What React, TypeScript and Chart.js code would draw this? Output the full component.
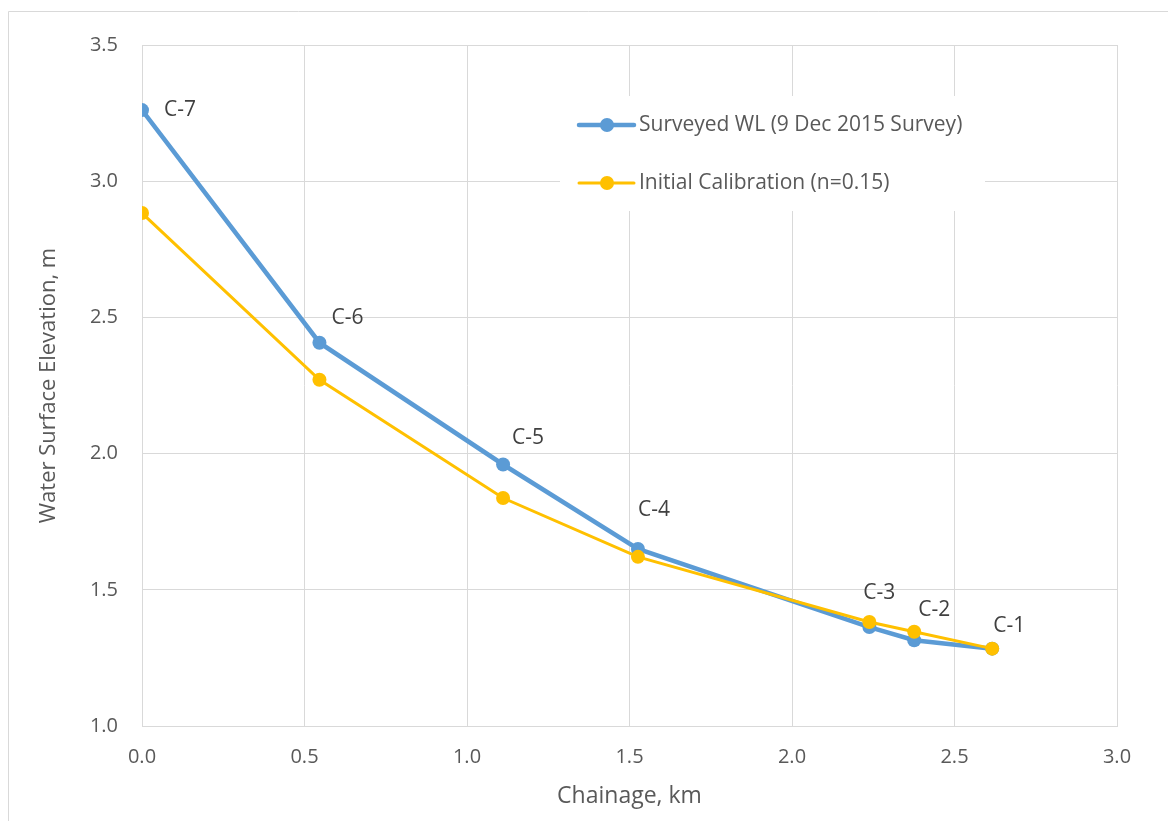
import React, { useEffect, useRef } from "react";
import { Chart, registerables } from "chart.js";

Chart.register(...registerables);

// ---- data ----
const chainageKm = [0, 0.546, 1.111, 1.526, 2.238, 2.376, 2.616];
const surveyedWL = [3.261, 2.407, 1.96, 1.65, 1.363, 1.315, 1.284];
const initialCalibration = [2.883, 2.271, 1.837, 1.621, 1.382, 1.346, 1.284];
const pointLabels = ["C-7", "C-6", "C-5", "C-4", "C-3", "C-2", "C-1"];
const seriesNames = ["Surveyed WL (9 Dec 2015 Survey)", "Initial Calibration (n=0.15)"];
const xTitle = "Chainage, km";
const yTitle = "Water Surface Elevation, m";

const BLUE = "#5B9BD5";
const GOLD = "#FFC000";
const GRID = "#D9D9D9";
const TEXT = "#595959";
const FONT = "'Open Sans', 'Liberation Sans', sans-serif";

// label placement (pixel offsets from the surveyed point)
const labelOffsets: [number, number][] = [
  [38, 0],
  [28, -25],
  [25, -26],
  [16, -39],
  [10, -34],
  [20, -30],
  [17, -23],
];

const framePlugin = {
  id: "frame",
  beforeDraw(chart: any) {
    const { ctx, width, height } = chart;
    ctx.save();
    ctx.fillStyle = "#ffffff";
    ctx.fillRect(0, 0, width, height);
    ctx.strokeStyle = GRID;
    ctx.lineWidth = 1;
    ctx.beginPath();
    ctx.moveTo(0.5, height);
    ctx.lineTo(0.5, 3.5);
    ctx.lineTo(width, 3.5);
    ctx.stroke();
    ctx.restore();
  },
};

const labelsPlugin = {
  id: "pointLabels",
  afterDatasetsDraw(chart: any) {
    const { ctx } = chart;
    const meta = chart.getDatasetMeta(0);
    ctx.save();
    ctx.font = `21px ${FONT}`;
    ctx.fillStyle = "#404040";
    ctx.textAlign = "center";
    ctx.textBaseline = "middle";
    meta.data.forEach((pt: any, i: number) => {
      const [dx, dy] = labelOffsets[i] || [0, 0];
      ctx.fillText(pointLabels[i], pt.x + dx, pt.y + dy);
    });
    ctx.restore();
  },
};

const legendPlugin = {
  id: "customLegend",
  afterDraw(chart: any) {
    const { ctx, chartArea } = chart;
    const bx = chartArea.left + 418;
    const by = chartArea.top + 51;
    ctx.save();
    ctx.fillStyle = "#ffffff";
    ctx.fillRect(bx, by, 425, 115);
    const rows = [
      { y: chartArea.top + 80, color: BLUE, lw: 4.5 },
      { y: chartArea.top + 138, color: GOLD, lw: 3 },
    ];
    rows.forEach((r, i) => {
      const lx = chartArea.left + 437;
      ctx.strokeStyle = r.color;
      ctx.lineWidth = r.lw;
      ctx.lineCap = "round";
      ctx.beginPath();
      ctx.moveTo(lx, r.y);
      ctx.lineTo(lx + 55, r.y);
      ctx.stroke();
      ctx.fillStyle = r.color;
      ctx.beginPath();
      ctx.arc(lx + 28, r.y, 7, 0, Math.PI * 2);
      ctx.fill();
      ctx.fillStyle = TEXT;
      ctx.font = `21px ${FONT}`;
      ctx.textAlign = "left";
      ctx.textBaseline = "middle";
      ctx.fillText(seriesNames[i], lx + 60, r.y);
    });
    ctx.restore();
  },
};

export default function App() {
  const ref = useRef<HTMLCanvasElement | null>(null);

  useEffect(() => {
    if (!ref.current) return;
    const chart = new Chart(ref.current, {
      type: "line",
      data: {
        datasets: [
          {
            label: seriesNames[0],
            data: chainageKm.map((x, i) => ({ x, y: surveyedWL[i] })),
            borderColor: BLUE,
            backgroundColor: BLUE,
            borderWidth: 4.5,
            pointRadius: 7,
            pointHoverRadius: 7,
            pointBorderWidth: 0,
            tension: 0,
            order: 1,
          },
          {
            label: seriesNames[1],
            data: chainageKm.map((x, i) => ({ x, y: initialCalibration[i] })),
            borderColor: GOLD,
            backgroundColor: GOLD,
            borderWidth: 3,
            pointRadius: 7,
            pointHoverRadius: 7,
            pointBorderWidth: 0,
            tension: 0,
            order: 0,
          },
        ],
      },
      options: {
        responsive: false,
        animation: false,
        devicePixelRatio: 1,
        layout: { padding: { left: 0, top: 37, right: 51, bottom: 0 } },
        plugins: {
          legend: { display: false },
          tooltip: { enabled: false },
        },
        scales: {
          x: {
            type: "linear",
            min: 0,
            max: 3,
            ticks: {
              stepSize: 0.5,
              color: TEXT,
              font: { family: FONT, size: 20 },
              padding: 19,
              callback: (v: any) => Number(v).toFixed(1),
            },
            grid: { color: GRID, lineWidth: 1, drawTicks: false },
            border: { display: true, color: GRID },
            title: {
              display: true,
              text: xTitle,
              color: TEXT,
              font: { family: FONT, size: 23 },
              padding: { top: 0, bottom: 11 },
            },
            afterFit: (s: any) => {
              s.height = 95;
            },
          },
          y: {
            type: "linear",
            min: 1,
            max: 3.5,
            ticks: {
              stepSize: 0.5,
              color: TEXT,
              font: { family: FONT, size: 20 },
              padding: 24,
              callback: (v: any) => Number(v).toFixed(1),
            },
            grid: { color: GRID, lineWidth: 1, drawTicks: false },
            border: { display: true, color: GRID },
            title: {
              display: true,
              text: yTitle,
              color: TEXT,
              font: { family: FONT, size: 22 },
              padding: { top: 28, bottom: 0 },
            },
            afterFit: (s: any) => {
              s.width = 134;
            },
          },
        },
      },
      plugins: [framePlugin, labelsPlugin, legendPlugin],
    });
    return () => chart.destroy();
  }, []);

  return (
    <div style={{ width: 1160, height: 813 }}>
      <canvas ref={ref} width={1160} height={813} style={{ display: "block" }} />
    </div>
  );
}
